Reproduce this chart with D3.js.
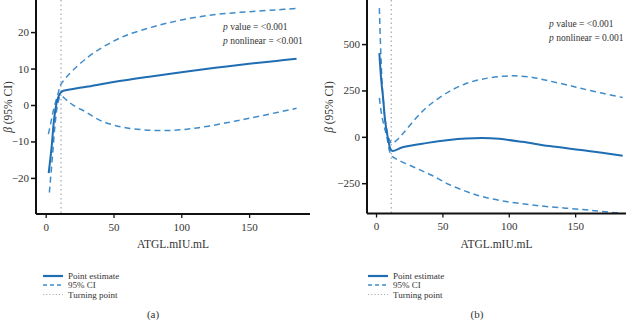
<!DOCTYPE html>
<html><head><meta charset="utf-8">
<script src="https://cdn.jsdelivr.net/npm/d3@7"></script>
<style>body{margin:0;background:#fff}svg{display:block}text{font-family:"Liberation Serif","DejaVu Serif",serif;fill:#333}</style>
</head><body><svg id="c" width="636" height="320"></svg>
<script>
// Panel (a)
const aX = [2.2,4.4,6.3,8.6,11,13,20,30,50,75,100,125,150,170,185];
const aEst = [-18.7,-11.4,-3.6,1.4,3.4,3.9,4.4,5.0,6.3,7.7,9.0,10.2,11.3,12.1,12.7];
const aUpX = [2,4,6,9,11,15,20,30,40,50,60,75,90,110,130,150,170,185];
const aUp = [-8,-4.5,-1,3,5.5,7.5,9.5,12.8,15.4,17.5,19.2,21,22.5,24,25,25.6,26.1,26.5];
const aLoX = [2.7,5,7,9,11,15,20,30,40,50,60,75,90,105,120,140,160,185];
const aLo = [-24,-14,-5,0.5,2.5,1.5,0,-2,-4.2,-5.5,-6.3,-6.9,-7,-6.6,-5.8,-4.4,-2.9,-0.9];
const aTurn = 11.3;
const aYTicks = [-20,-10,0,10,20];
// Panel (b)
const bX = [2.5,4,5.5,6.8,9.3,11.8,20,37.6,55,67.8,80,92.8,110,130.5,160,185.8];
const bEst = [451,300,198,90,-18,-75,-56,-34,-17,-9,-6,-11,-27,-50,-76,-102];
const bUpX = [2.5,3.5,4.5,6,8,10,12,15,20,30,40,55,67,80,95,105,118,130,145,155,170,185.8];
const bUp = [694,470,300,150,40,-15,-36,-22,15,100,170,244,285,311,326,329,320,302,278,260,236,212];
const bLoX = [2.5,4,6,8,10.5,12,17.6,30,42.7,55,67.8,80,97.9,115,130.5,155.6,170,185.8];
const bLo = [210,130,60,5,-85,-105,-128,-168,-210,-257,-294,-322,-349,-365,-377,-392,-402,-413];
const bTurn = 11.5;
const bYTicks = [-250,0,250,500];
const xTicks = [0,50,100,150];
const legendItems = ["Point estimate","95% CI","Turning point"];

const svg = d3.select("#c");
const cEst = "#1f6db3", cCI = "#3f8ccb", cTurn = "#a9adb5";

function panel(o){
  const g = svg.append("g");
  const x = d3.scaleLinear().domain(o.xd).range([o.x0,o.x1]);
  const y = d3.scaleLinear().domain(o.yd).range([o.y1,o.y0]);
  g.append("line").attr("x1",x(o.turn)).attr("x2",x(o.turn)).attr("y1",o.y0).attr("y2",o.y1)
    .attr("stroke",cTurn).attr("stroke-width",1.3).attr("stroke-dasharray","1.5,3");
  const line = d3.line().curve(d3.curveCatmullRom.alpha(0.5));
  const mk = (xs,ys)=>xs.map((v,i)=>[x(v),y(ys[i])]);
  g.append("path").attr("d",line(mk(o.upX,o.up))).attr("fill","none").attr("stroke",cCI).attr("stroke-width",1.5).attr("stroke-dasharray","6,4");
  g.append("path").attr("d",line(mk(o.loX,o.lo))).attr("fill","none").attr("stroke",cCI).attr("stroke-width",1.5).attr("stroke-dasharray","6,4");
  g.append("path").attr("d",line(mk(o.ex,o.est))).attr("fill","none").attr("stroke",cEst).attr("stroke-width",2);
  const ya = g.append("g").attr("transform",`translate(${o.x0},0)`).call(d3.axisLeft(y).tickValues(o.yt).tickSize(5).tickPadding(2).tickFormat(d=>d<0?"\u2212"+Math.abs(d):d));
  ya.select(".domain").attr("stroke","#111").attr("stroke-width",2).attr("d",`M0,${o.y0}V${o.y1}`);
  ya.selectAll(".tick line").attr("stroke","#111").attr("stroke-width",1.5);
  ya.selectAll("text").attr("font-size",11).attr("fill","#333").attr("font-family","Liberation Serif, serif");
  const xa = g.append("g").attr("transform",`translate(0,${o.y1})`).call(d3.axisBottom(x).tickValues(xTicks).tickSize(4).tickPadding(5));
  xa.select(".domain").attr("stroke","#111").attr("stroke-width",2).attr("d",`M${o.x0},0H${o.x1}`);
  xa.selectAll(".tick line").attr("stroke","#111").attr("stroke-width",1.3);
  xa.selectAll("text").attr("font-size",11).attr("fill","#333").attr("font-family","Liberation Serif, serif");
  g.append("text").attr("x",(o.x0+o.x1)/2).attr("y",248).attr("text-anchor","middle").attr("font-size",11.5).text("ATGL.mIU.mL");
  const yt = g.append("text").attr("transform",`translate(${o.ylx},107) rotate(-90)`).attr("text-anchor","middle").attr("font-size",11.5);
  yt.append("tspan").attr("font-style","italic").text("\u03b2");
  yt.append("tspan").text(" (95% CI)");
  const t1 = g.append("text").attr("x",o.ax).attr("y",o.ay).attr("font-size",9.5).attr("text-anchor","start");
  t1.append("tspan").attr("font-style","italic").text("p");
  t1.append("tspan").text(" value = <0.001");
  const t2 = g.append("text").attr("x",o.ax).attr("y",o.ay+14).attr("font-size",9.5).attr("text-anchor","start");
  t2.append("tspan").attr("font-style","italic").text("p");
  t2.append("tspan").text(" nonlinear = "+o.nl);
  const ly = [276,285,294.5];
  const styles = [[cEst,2.2,null],[cCI,1.6,"4,3"],[cTurn,1.2,"1.2,2"]];
  legendItems.forEach((s,i)=>{
    g.append("line").attr("x1",o.lx).attr("x2",o.lx+20).attr("y1",ly[i]).attr("y2",ly[i])
      .attr("stroke",styles[i][0]).attr("stroke-width",styles[i][1]).attr("stroke-dasharray",styles[i][2]);
    g.append("text").attr("x",o.lx+25).attr("y",ly[i]+3).attr("font-size",9).attr("text-anchor","start").text(s);
  });
  g.append("text").attr("x",o.lab).attr("y",318).attr("text-anchor","middle").attr("font-size",11).text(o.label);
}

panel({xd:[-7.15,194.9],x0:36,x1:310,yd:[-29.9,28.8],y0:0,y1:214,ex:aX,est:aEst,upX:aUpX,up:aUp,loX:aLoX,lo:aLo,turn:aTurn,yt:aYTicks,ylx:12,ax:223,ay:30,nl:"<0.001",lx:43,lab:153,label:"(a)"});
panel({xd:[-6.8,188.3],x0:367,x1:626,yd:[-413.4,737.7],y0:0,y1:213.5,ex:bX,est:bEst,upX:bUpX,up:bUp,loX:bLoX,lo:bLo,turn:bTurn,yt:bYTicks,ylx:333,ax:549,ay:27,nl:"0.001",lx:368,lab:477,label:"(b)"});
</script></body></html>
